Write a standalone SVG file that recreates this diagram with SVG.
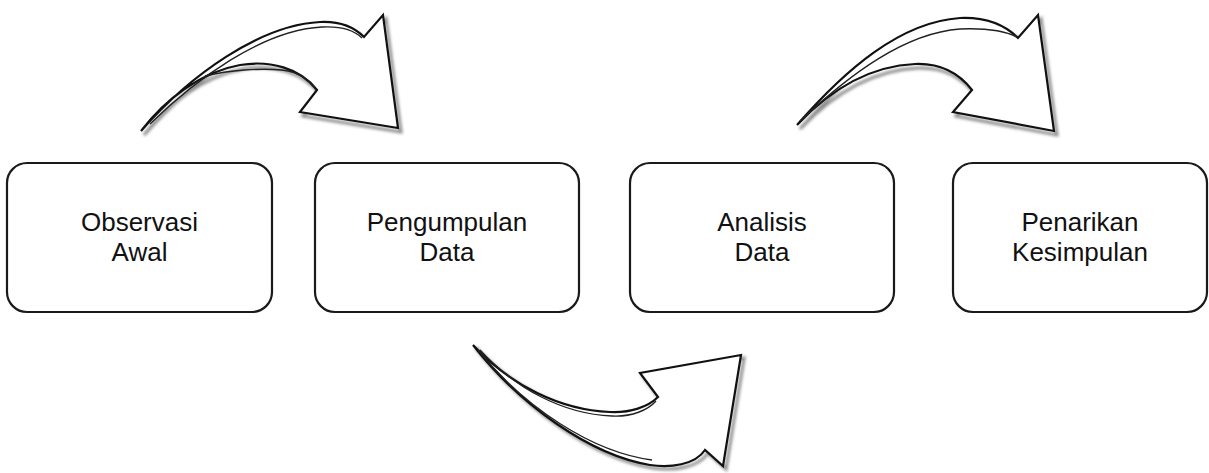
<svg xmlns="http://www.w3.org/2000/svg" width="1209" height="473" viewBox="0 0 1209 473">
  <defs>
    <filter id="blur" x="-10%" y="-10%" width="120%" height="120%">
      <feGaussianBlur stdDeviation="1.6"/>
    </filter>
    <style>
      .box { fill: #ffffff; stroke: #1a1a1a; stroke-width: 2.2; }
      .lbl { font-family: "Liberation Sans", Arial, sans-serif; font-size: 26px; fill: #111111; text-anchor: middle; }
      .arrow { fill: #ffffff; stroke: #111111; stroke-width: 2.2; stroke-linejoin: miter; }
      .sketch { fill: none; stroke: #222222; stroke-width: 1.4; }
      .shadow { fill: none; stroke: #8a8a8a; stroke-width: 3; filter: url(#blur); }
    </style>
  </defs>
  <rect width="1209" height="473" fill="#ffffff"/>

  <g id="connectors">
    <g id="arrow-observasi-pengumpulan">
      <path class="shadow" transform="translate(3,4)" d="M 141,131 C 190,75 260,25 320,22 C 340,21 355,28 364,37 L 383,15 L 398,128 L 300,112 L 317,90 C 300,68 270,60 240,65 C 200,72 165,100 141,131 Z"/>
      <path class="arrow" d="M 141,131 C 190,75 260,25 320,22 C 340,21 355,28 364,37 L 383,15 L 398,128 L 300,112 L 317,90 C 300,68 270,60 240,65 C 200,72 165,100 141,131 Z"/>
      <path class="sketch" d="M 150,124 C 195,80 262,30 322,27 C 342,26 355,31 362,38"/>
      <path class="sketch" d="M 205,76 C 230,70 260,68 282,70 C 300,72 312,82 316,90"/>
    </g>
    <g id="arrow-pengumpulan-analisis">
      <path class="shadow" transform="translate(3,3)" d="M 473,345 C 510,385 560,410 610,412 C 630,413 648,407 658,397 L 640,373 L 741,355 L 723,466 L 705,450 C 695,465 670,468 650,465 C 590,455 520,405 473,345 Z"/>
      <path class="arrow" d="M 473,345 C 510,385 560,410 610,412 C 630,413 648,407 658,397 L 640,373 L 741,355 L 723,466 L 705,450 C 695,465 670,468 650,465 C 590,455 520,405 473,345 Z"/>
      <path class="sketch" d="M 480,350 C 515,388 562,414 612,416 C 632,417 648,410 656,401"/>
      <path class="sketch" d="M 478,350 C 525,408 592,452 652,460"/>
    </g>
    <g id="arrow-analisis-penarikan">
      <path class="shadow" transform="translate(3,4)" d="M 797,125 C 845,70 900,22 960,18 C 985,17 1005,25 1018,38 L 1038,15 L 1054,131 L 953,112 L 972,90 C 958,72 940,63 915,64 C 870,66 830,90 797,125 Z"/>
      <path class="arrow" d="M 797,125 C 845,70 900,22 960,18 C 985,17 1005,25 1018,38 L 1038,15 L 1054,131 L 953,112 L 972,90 C 958,72 940,63 915,64 C 870,66 830,90 797,125 Z"/>
      <path class="sketch" d="M 800,121 C 850,74 905,33 960,29 C 985,28 1005,31 1017,37"/>
    </g>
  </g>

  <g id="node-observasi">
    <rect class="box" x="7" y="163" width="265" height="149" rx="20" ry="20"/>
    <text class="lbl" x="139.5" y="231">Observasi</text>
    <text class="lbl" x="139.5" y="261">Awal</text>
  </g>
  <g id="node-pengumpulan">
    <rect class="box" x="315" y="163" width="264" height="149" rx="20" ry="20"/>
    <text class="lbl" x="447" y="231">Pengumpulan</text>
    <text class="lbl" x="447" y="261">Data</text>
  </g>
  <g id="node-analisis">
    <rect class="box" x="630" y="163" width="264" height="149" rx="20" ry="20"/>
    <text class="lbl" x="762" y="231">Analisis</text>
    <text class="lbl" x="762" y="261">Data</text>
  </g>
  <g id="node-penarikan">
    <rect class="box" x="953" y="163" width="254" height="149" rx="20" ry="20"/>
    <text class="lbl" x="1080" y="231">Penarikan</text>
    <text class="lbl" x="1080" y="261">Kesimpulan</text>
  </g>
</svg>
